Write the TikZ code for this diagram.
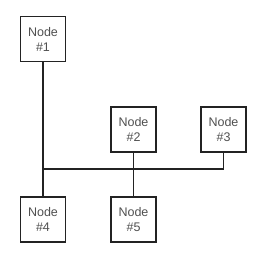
\documentclass[tikz,border=0pt]{standalone}
\usepackage{fontspec}
\setmainfont{Liberation Sans}
\definecolor{mBoxLine}{RGB}{35,35,35}
\definecolor{mText}{RGB}{80,80,80}
\usetikzlibrary{positioning}

\begin{document}
\begin{tikzpicture}[x=1pt,y=-1pt,
    netbox/.style={draw=mBoxLine, line width=1.1pt, minimum size=45pt, inner sep=0pt,
      align=center, font=\fontsize{12.5}{15}\selectfont, text=mText},
    wire/.style={line width=1.1pt, mBoxLine}]
    % Frame
    \useasboundingbox (0,0) rectangle (272,262);
    % Nodes
    \node[netbox] (n1) at (43,39) {Node\\\#1};
    \node[netbox] (n2) at (133.5,129.5) {Node\\\#2};
    \node[netbox] (n3) at (223.5,129.5) {Node\\\#3};
    \node[netbox] (n4) at (43,219.5) {Node\\\#4};
    \node[netbox] (n5) at (133.5,219.5) {Node\\\#5};
    % Bus
    \coordinate (bus) at (43,169);
    \draw[wire] (n1) -- (n4);
    \draw[wire] (n2) -- (n5);
    \draw[wire] (n3.south) |- (bus);
  \end{tikzpicture}
\end{document}
